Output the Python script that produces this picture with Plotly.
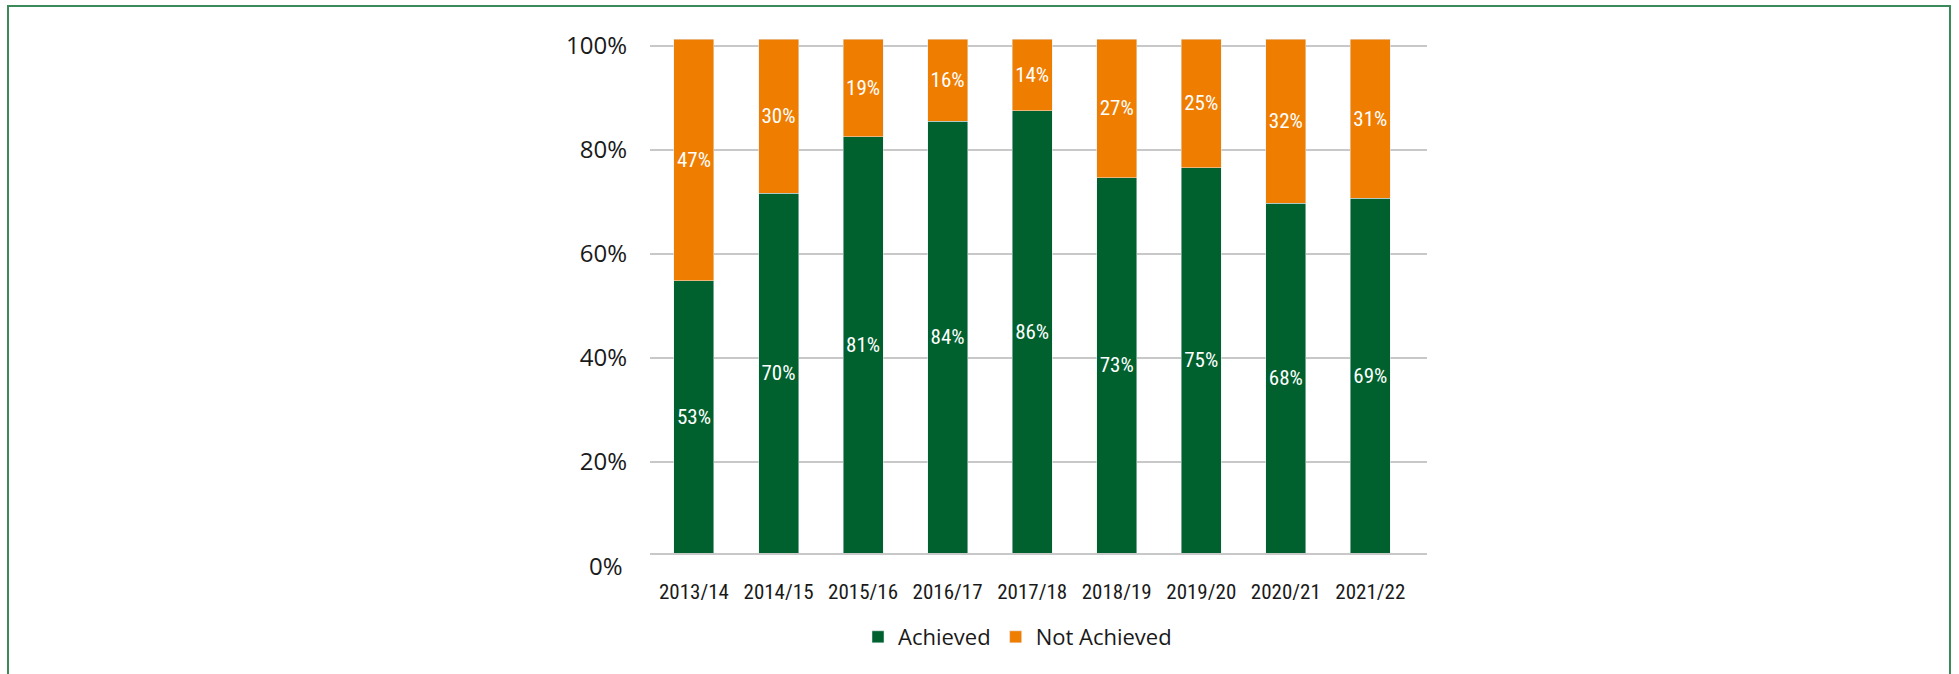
import plotly.graph_objects as go

years = ["2013/14", "2014/15", "2015/16", "2016/17", "2017/18",
         "2018/19", "2019/20", "2020/21", "2021/22"]
achieved = [53, 70, 81, 84, 86, 73, 75, 68, 69]
not_achieved = [47, 30, 19, 16, 14, 27, 25, 32, 31]
ytick_vals = [0, 20, 40, 60, 80, 100]
ytick_text = ["0%", "20%", "40%", "60%", "80%", "100%"]

GREEN = "#00612e"
ORANGE = "#ef7d00"
GRID = "#c8c8c8"
NARROW = ("Roboto Condensed, Noto Sans Condensed, Open Sans Condensed, "
          "Liberation Sans Narrow, DejaVu Sans Condensed, Roboto, sans-serif")
NORMAL = "Open Sans, Noto Sans, sans-serif"

W, H = 1959, 674
L, R, T, B = 650, 532, 39, 121
PW, PH = W - L - R, H - T - B
Y2_RANGE = [2.5, 101.35]

fig = go.Figure()
for vals, name, col in [(achieved, "Achieved", GREEN),
                        (not_achieved, "Not Achieved", ORANGE)]:
    fig.add_trace(go.Bar(
        x=years, y=vals, name=name, marker_color=col,
        text=[f"{v}%" for v in vals], textposition="inside",
        insidetextanchor="middle", textangle=0, constraintext="none",
        textfont=dict(color="white", family=NARROW, size=21),
        yaxis="y"))

# gridline / label axis (slightly offset scale as in the original)
fig.add_trace(go.Scatter(x=[years[0]], y=[None], yaxis="y2", showlegend=False,
                         hoverinfo="skip"))

fig.update_layout(
    width=W, height=H,
    margin=dict(l=L, r=R, t=T, b=B, autoexpand=False),
    paper_bgcolor="white", plot_bgcolor="rgba(0,0,0,0)",
    barmode="stack", bargap=0.527,
    xaxis=dict(range=[-0.52, 8.67], showgrid=False, showline=True,
               linecolor=GRID, linewidth=2, ticks="",
               tickfont=dict(family=NARROW, size=21, color="#1a1a1a"),
               ticklabelstandoff=19, automargin=False, fixedrange=True),
    yaxis=dict(range=[0, 100], showgrid=False, showticklabels=False,
               zeroline=False, automargin=False),
    yaxis2=dict(overlaying="y", side="left", range=Y2_RANGE,
                tickvals=ytick_vals, ticktext=ytick_text,
                showgrid=True, gridcolor=GRID, gridwidth=1.5,
                zeroline=False, ticks="",
                tickfont=dict(family=NORMAL, size=24, color="#1a1a1a"),
                ticklabelstandoff=22, automargin=False),
    legend=dict(orientation="h", x=(858 - L) / PW, xanchor="left",
                y=(H - B - 637) / PH, yanchor="middle",
                font=dict(family=NORMAL, size=22, color="#1a1a1a"),
                bgcolor="rgba(0,0,0,0)", traceorder="normal"),
    showlegend=True,
)

# "0%" tick label falls just below the axis line in the original
zero_paper = (ytick_vals[0] - Y2_RANGE[0]) / (Y2_RANGE[1] - Y2_RANGE[0])
fig.add_annotation(x=(625 - L) / PW, xref="paper", xanchor="right",
                   y=zero_paper, yref="paper", yanchor="middle", showarrow=False,
                   text=ytick_text[0],
                   font=dict(family=NORMAL, size=24, color="#1a1a1a"))

# outer frame (no bottom edge visible)
xl, xr = (8 - L) / PW, (1950 - L) / PW
yt, yb = (H - B - 6) / PH, (H - B - 700) / PH
fig.add_shape(type="path", xref="paper", yref="paper",
              path=f"M {xl},{yb} L {xl},{yt} L {xr},{yt} L {xr},{yb}",
              line=dict(color="#3a8a5a", width=2))

fig.write_html("out.html")
